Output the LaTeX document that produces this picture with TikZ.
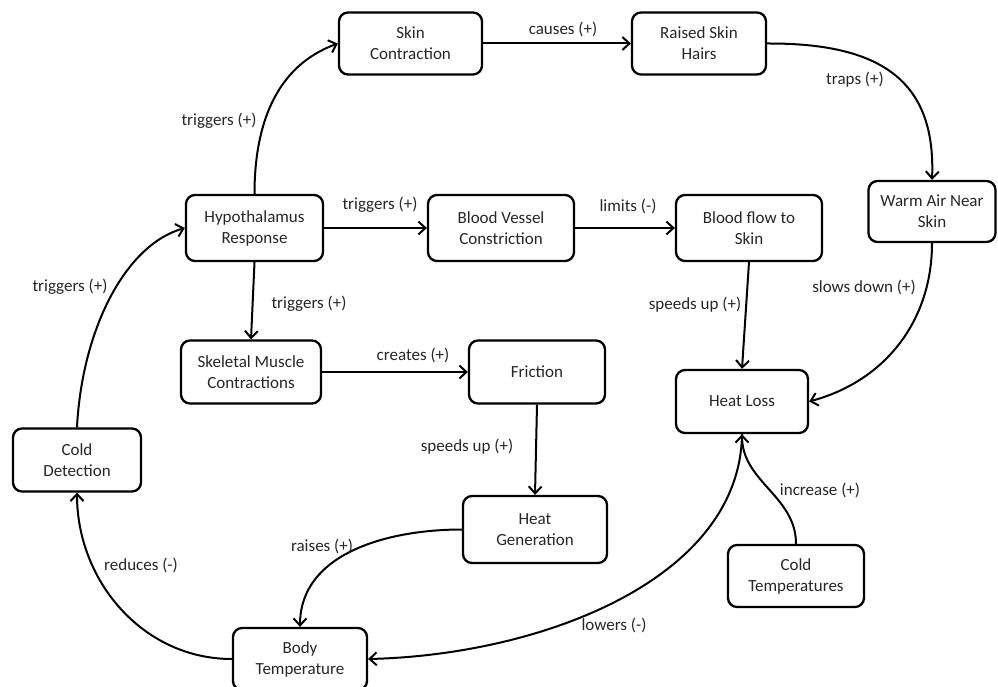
\documentclass[tikz,border=0pt]{standalone}
\usepackage{fontspec}
\setmainfont{Carlito}
\usetikzlibrary{arrows.meta}
\begin{document}
\begin{tikzpicture}[x=1pt,y=1pt,
  box/.style={draw, line width=2.3pt, rounded corners=9pt, align=center, minimum height=64pt, inner sep=2pt, font=\fontsize{17}{21}\selectfont, text=black!85},
  lbl/.style={font=\fontsize{17}{21}\selectfont, text=black!85, inner sep=1pt},
  conn/.style={line width=2pt, -{Straight Barb[length=7pt,width=13pt]}},
]
\useasboundingbox (0,0) rectangle (998,-687);
\node[box, minimum width=143pt, minimum height=62pt] (sc) at (410.5,-43.5) {Skin\\Contraction};
\node[box, minimum width=134pt, minimum height=62pt] (rsh) at (699,-43.5) {Raised Skin\\Hairs};
\node[box, minimum width=127pt, minimum height=61pt] (war) at (932,-211.5) {Warm Air Near\\Skin};
\node[box, minimum width=137pt, minimum height=66pt] (hyp) at (254.5,-228) {Hypothalamus\\Response};
\node[box, minimum width=146pt, minimum height=66pt] (bvc) at (501,-228) {Blood Vessel\\Constriction};
\node[box, minimum width=146pt, minimum height=66pt] (bfs) at (749,-228) {Blood flow to\\Skin};
\node[box, minimum width=140pt, minimum height=63pt] (ske) at (251,-372) {Skeletal Muscle\\Contractions};
\node[box, minimum width=136pt, minimum height=63pt] (fri) at (537,-372) {Friction};
\node[box, minimum width=132pt, minimum height=63pt] (hl) at (742,-401.5) {Heat Loss};
\node[box, minimum width=128pt, minimum height=63pt] (cd) at (77,-460) {Cold\\Detection};
\node[box, minimum width=144pt, minimum height=67pt] (hg) at (535,-529.5) {Heat\\Generation};
\node[box, minimum width=136pt, minimum height=62pt] (ct) at (796,-576) {Cold\\Temperatures};
\node[box, minimum width=134pt, minimum height=62pt] (bt) at (300,-659) {Body\\Temperature};

\draw[conn] (hyp.north) to[out=90,in=200] (sc.west);
\draw[conn] (sc) -- (rsh);
\draw[conn] (rsh.east) .. controls (880,-43) and (936,-80) .. (war.north);
\draw[conn] (hyp) -- (bvc);
\draw[conn] (bvc) -- (bfs);
\draw[conn] (bfs.south) -- (hl.north);
\draw[conn] (war.south) to[out=-90,in=15] (hl.east);
\draw[conn] (hyp.south) -- (ske.north);
\draw[conn] (ske) -- (fri);
\draw[conn] (fri.south) -- (hg.north);
\draw[conn] (hg.west) to[out=180,in=90] (bt.north);
\draw[conn] (hl.south) .. controls (740,-580) and (540,-655) .. (bt.east);
\draw[conn] (ct.north) to[out=90,in=-90] (hl.south);
\draw[conn] (bt.west) to[out=180,in=-90] (cd.south);
\draw[conn] (cd.north) .. controls (82,-330) and (125,-245) .. (hyp.west);

\node[lbl] (l1) at (219,-121) {triggers (+)};
\node[lbl] (l2) at (563,-29) {causes (+)};
\node[lbl] (l3) at (855,-80) {traps (+)};
\node[lbl] (l4) at (380,-205) {triggers (+)};
\node[lbl] (l5) at (628,-206) {limits (-)};
\node[lbl] (l6) at (695,-305) {speeds up (+)};
\node[lbl] (l7) at (864,-287) {slows down (+)};
\node[lbl] (l8) at (309,-304) {triggers (+)};
\node[lbl] (l9) at (413,-355) {creates (+)};
\node[lbl] (l10) at (467,-447) {speeds up (+)};
\node[lbl] (l11) at (322,-546) {raises (+)};
\node[lbl] (l12) at (614,-625) {lowers (-)};
\node[lbl] (l13) at (820,-490) {increase (+)};
\node[lbl] (l14) at (141,-565) {reduces (-)};
\node[lbl] (l15) at (70,-287) {triggers (+)};
\end{tikzpicture}
\end{document}
